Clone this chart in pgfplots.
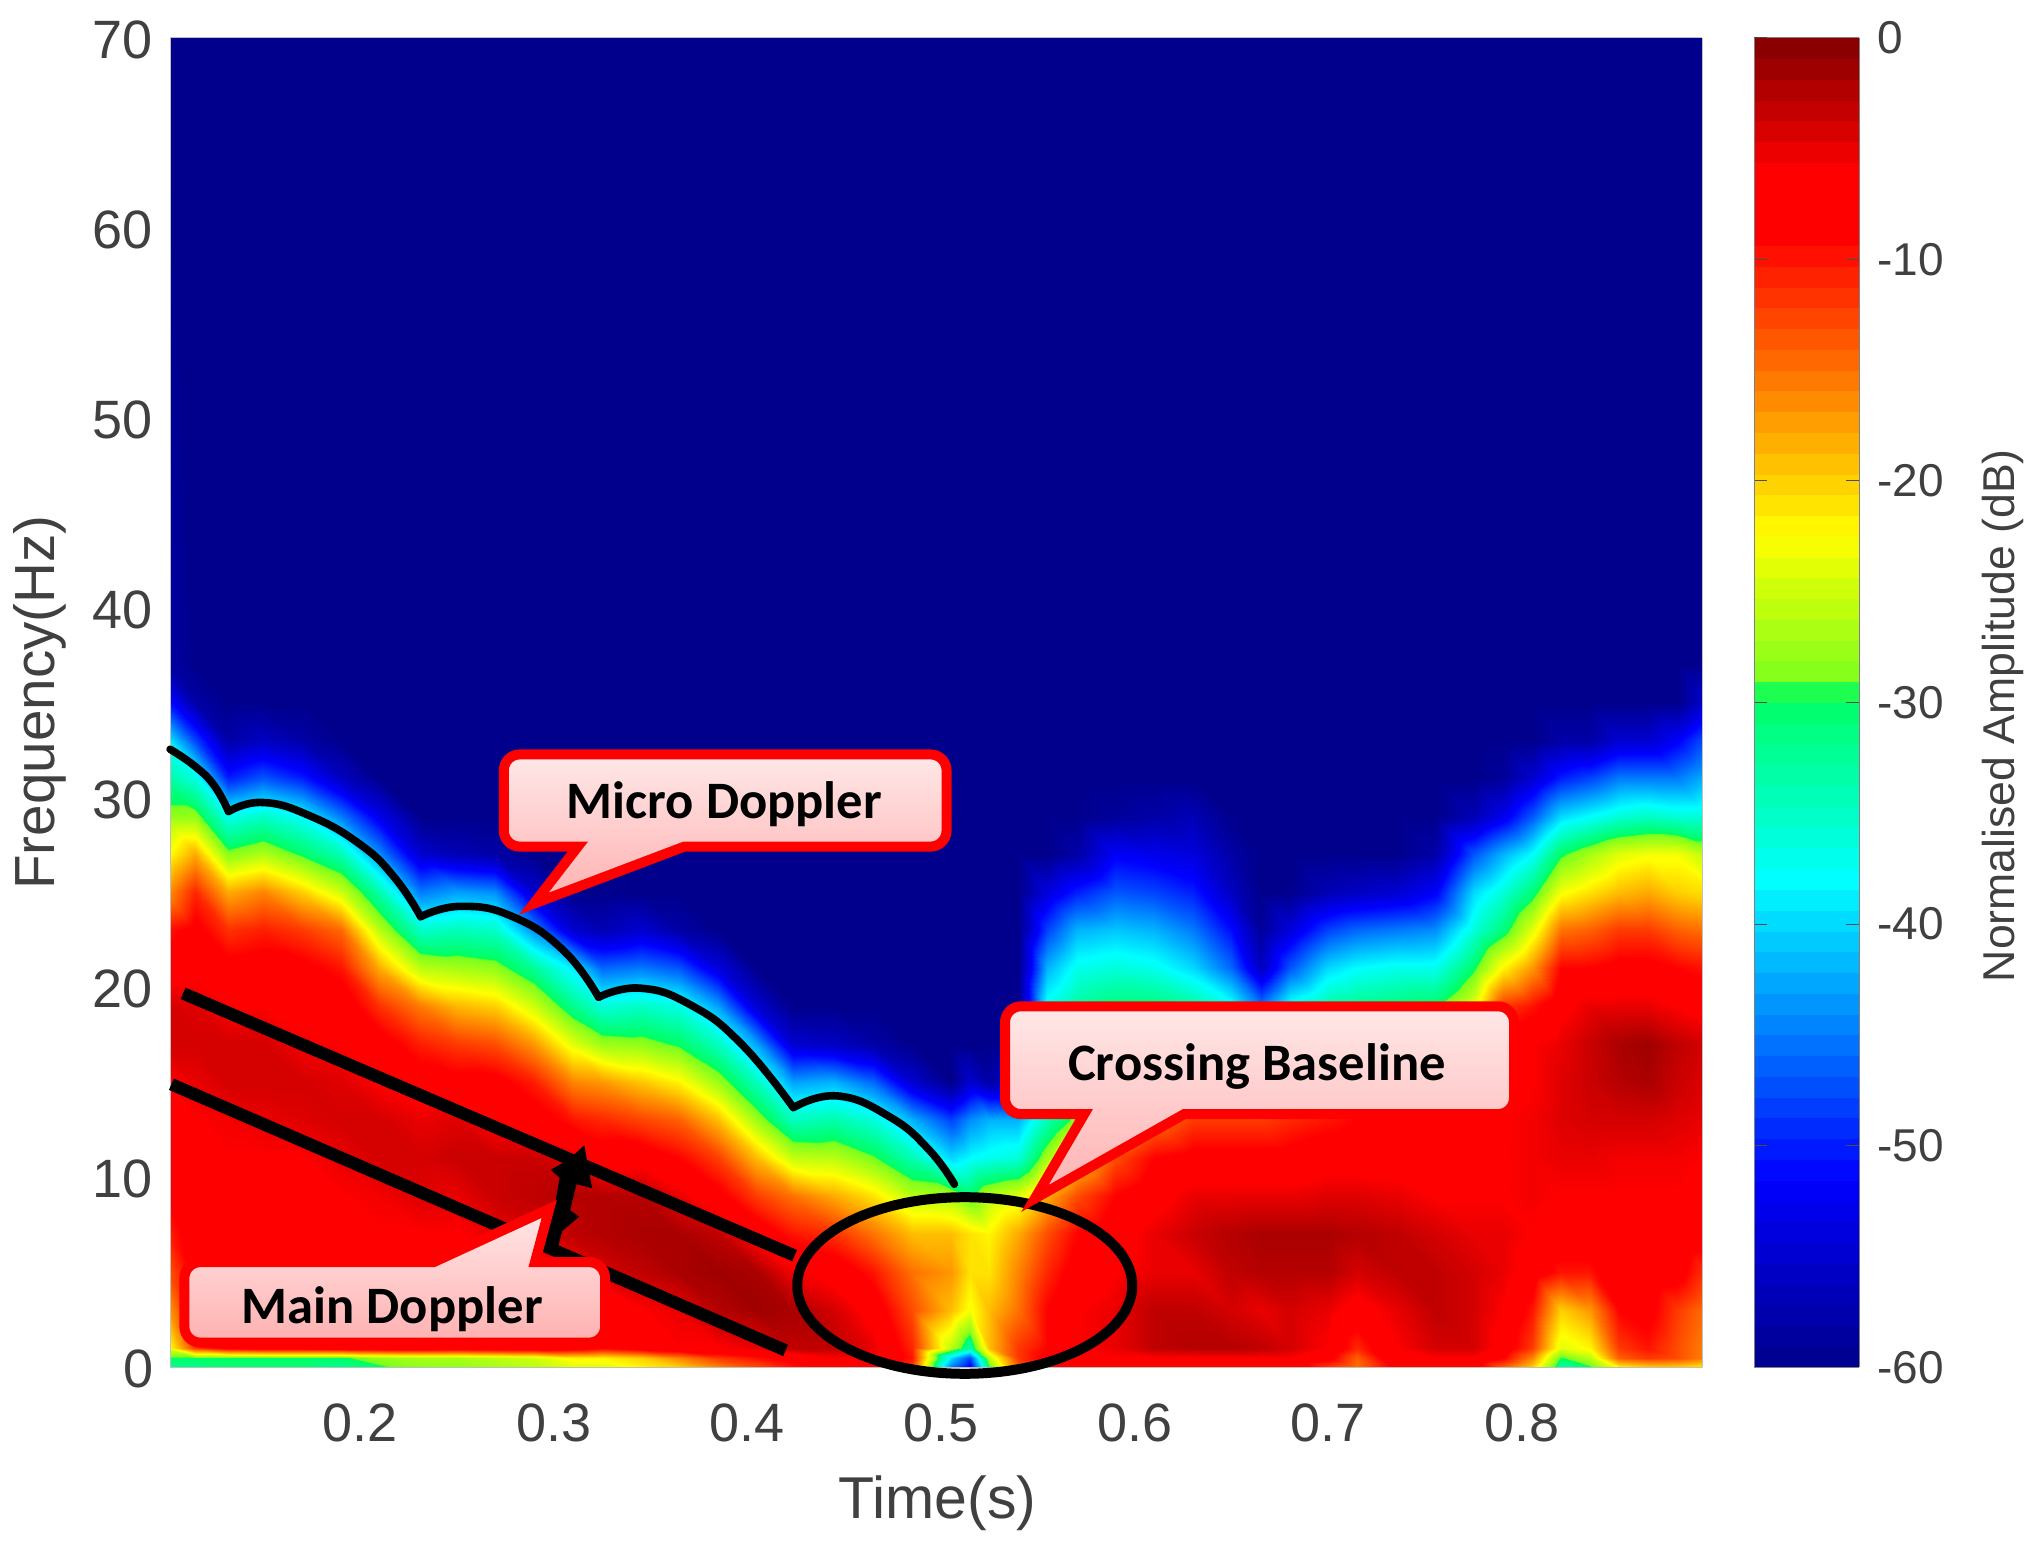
\documentclass[border=0pt]{standalone}
\usepackage{fontspec}
\setmainfont{Liberation Sans}
\newfontfamily\calloutfont{Carlito}
\usepackage{pgfplots}
\pgfplotsset{compat=1.18}
\definecolor{labelgray}{RGB}{64,64,64}
\definecolor{calltop}{RGB}{255,232,232}
\definecolor{callbot}{RGB}{255,176,176}

% spectrogram values in dB: one line per time, frequencies from the bottom up
% (rows 0,0.5,1,3,...,37,70 Hz; the rows left out at the top are the -60 floor)
\newcount\ncnt
\def\coords{}
\def\freqs{{0,0.5,1,3,5,7,9,11,13,15,17,19,21,23,25,27,29,31,33,35,37,70}}
\newcommand\addcol[2]{%
  \global\ncnt=0
  \foreach \v in {#2}{%
    \pgfmathparse{\freqs[\the\ncnt]}%
    \xdef\coords{\coords (#1,\pgfmathresult,\v)}%
    \global\advance\ncnt by 1
  }%
  \loop\ifnum\ncnt<22
    \pgfmathparse{\freqs[\the\ncnt]}%
    \xdef\coords{\coords (#1,\pgfmathresult,-60)}%
    \global\advance\ncnt by 1
  \repeat
}
\addcol{0.100}{-32,-30,-24,-18,-14,-11,-9,-7,-7,-6,-4,-4,-7,-10,-17,-23,-28,-33,-38,-50,-58,-60}
\addcol{0.115}{-32,-30,-12,-9,-8,-7,-6,-6,-6,-5,-4,-4.5,-6.5,-8,-11,-18,-28,-36.5,-48,-58}
\addcol{0.132}{-30,-30,-8,-7,-6.5,-6,-6,-6,-5.5,-4,-4,-6,-8,-11.5,-18,-28.5,-37,-50,-58}
\addcol{0.150}{-30,-30,-7,-6.5,-6,-6,-6,-6,-5,-4,-4,-6,-7.5,-10.5,-16,-26.5,-35,-47,-56}
\addcol{0.170}{-30,-30,-7,-6,-6,-6,-6,-6,-4.5,-4,-5.5,-6.5,-8,-12,-20,-30,-38,-50,-58}
\addcol{0.190}{-32,-30,-6.5,-6,-6,-6,-6,-5,-4,-4.5,-6,-7,-10,-14.5,-25,-34,-45,-56}
\addcol{0.210}{-30,-28,-6,-6,-6,-6,-5.5,-4,-4,-6,-7.5,-11.5,-18,-26,-33.5,-44,-53}
\addcol{0.231}{-28,-27,-6,-6,-6,-6,-4.5,-4,-5,-7.5,-10.5,-15.5,-26,-35,-45,-55}
\addcol{0.250}{-28,-27,-6.5,-6,-6,-6,-5,-3.5,-4.5,-8,-12,-18.7,-27,-34.3,-43,-57}
\addcol{0.270}{-27,-26,-6,-6,-6,-5,-3.5,-3.5,-6.5,-8,-13,-20,-28,-35,-44,-58}
\addcol{0.290}{-26,-25,-6,-6,-6,-4,-3,-3.5,-7.5,-10.5,-17,-25,-32.5,-44,-55}
\addcol{0.310}{-24,-22,-7,-7,-6,-3,-2.5,-5,-10,-16,-24,-32,-39,-55}
\addcol{0.325}{-24,-22,-9,-9,-4,-2.5,-2.5,-7.5,-11,-17,-27.5,-36,-46,-57}
\addcol{0.345}{-22,-20,-7,-6,-3,-2,-2.5,-7,-12.5,-19.5,-28,-35,-45,-55}
\addcol{0.365}{-20,-16,-6,-5,-2,-2,-5,-9,-14,-22,-30,-36.5,-47,-58}
\addcol{0.385}{-16,-12,-6,-2.5,-1.5,-3,-8,-12.2,-19,-27.5,-34.6,-43,-54}
\addcol{0.405}{-13,-10,-5,-1.5,-2,-7,-12.2,-19,-27.5,-34.6,-43,-55}
\addcol{0.4235}{-10,-8,-3,-2,-5.5,-10,-15,-25.5,-34.5,-43,-55}
\addcol{0.445}{-8,-6,-3,-4,-7,-11.5,-18,-26,-33.5,-42,-56}
\addcol{0.465}{-8,-6,-5,-7,-10,-15,-21,-29,-36,-46,-58}
\addcol{0.485}{-12,-10,-11,-13,-15,-19,-26,-34,-42,-55}
\addcol{0.505}{-45,-40,-26,-19,-17,-19,-27,-40,-48,-60}
\addcol{0.515}{-52,-48,-33,-23,-21,-21,-30,-38,-44,-55}
\addcol{0.525}{-30,-26,-19,-19,-21,-22,-26,-37,-42,-58}
\addcol{0.540}{-14,-12,-12,-15,-16,-18,-24,-36,-42,-55}
\addcol{0.555}{-9,-8,-9,-9,-11,-13,-18,-27,-34,-36,-35,-37,-42,-48,-54}
\addcol{0.570}{-8,-7,-6,-6,-7.5,-9,-13,-20,-28,-30,-32,-33,-37,-42,-50,-58}
\addcol{0.590}{-7,-6,-5,-5,-6,-7,-9,-13,-19,-25,-28,-31,-36,-41,-47,-52,-59}
\addcol{0.610}{-7,-6,-3,-3,-5,-5,-7,-9,-15,-22,-26,-31,-37,-42,-48,-53,-58}
\addcol{0.630}{-7,-6,-2.5,-3,-5,-3.5,-5,-8,-12,-20,-26,-33,-40,-45,-50,-54,-57}
\addcol{0.650}{-6.5,-6,-2.5,-4,-3,-2.5,-5,-8,-12,-20,-28,-37,-46,-51,-56,-58}
\addcol{0.665}{-6.5,-6,-3,-5,-2.5,-2,-5,-8,-12,-20,-30,-45,-56,-59}
\addcol{0.680}{-6.5,-6,-4,-4,-2.5,-2,-5,-8,-11,-18,-28,-37,-47,-54}
\addcol{0.700}{-12,-8,-6,-5,-2.5,-2,-4.5,-7,-10,-16,-25,-33,-40,-48,-57}
\addcol{0.715}{-15,-14,-11,-7,-4,-2.5,-4.5,-7,-9,-15,-24,-32,-38,-46,-56}
\addcol{0.735}{-8,-6,-6,-5,-3,-3,-5,-7,-8,-14,-23,-31,-37,-45,-55}
\addcol{0.755}{-7,-6,-4,-3,-3,-4,-6,-6.5,-8,-12,-20,-30,-37,-44,-52,-58}
\addcol{0.775}{-8,-6,-4,-4,-4,-5,-6,-6,-7,-9,-14,-24,-30,-36,-40,-47,-57}
\addcol{0.790}{-14,-9,-7,-6,-5,-5,-6,-6,-6,-6.5,-7.5,-12,-22,-31,-36,-42,-53,-59}
\addcol{0.805}{-20,-16,-12,-10,-7,-6,-5.5,-5.5,-5.5,-6,-6,-10,-17,-24,-31,-38,-47,-55}
\addcol{0.820}{-33,-30,-24,-20,-10,-7,-6,-5,-4.5,-4.5,-5,-6.5,-9,-15,-23,-30,-40,-50,-58}
\addcol{0.835}{-30,-26,-22,-17,-10,-6,-6,-5,-4,-3.5,-3.5,-5,-9,-14,-21,-27,-38,-48,-58}
\addcol{0.850}{-22,-14,-12,-9,-6,-6,-6,-5.5,-4,-2.5,-2,-5,-8,-12,-19,-24,-36,-45,-55}
\addcol{0.865}{-20,-12,-10,-8,-7,-6,-6,-5.5,-4,-2,-1.5,-5,-8,-12,-18,-23,-35,-45,-55}
\addcol{0.880}{-20,-13,-13,-12,-7.5,-6,-6,-5.5,-4.5,-3.5,-3,-6,-9,-14,-20,-23,-36,-45,-52}
\addcol{0.895}{-22,-16,-16,-15,-12,-7,-6.5,-6,-5,-4.5,-4,-7,-10,-15,-21,-26,-36,-42,-47,-55}

\newcommand\plotcoords[1]{\addplot3[surf, shader=interp, mesh/ordering=y varies, mesh/rows=22, mesh/cols=46] coordinates {#1};}

\begin{document}
\begin{tikzpicture}
\path[use as bounding box] (0,0) rectangle (1018pt,-777.5pt);
\begin{axis}[
    at={(85.05pt,-683.6pt)},
    anchor=south west,
    scale only axis,
    width=766pt,
    height=664.8pt,
    view={0}{90},
    xmin=0.102, xmax=0.893,
    ymin=0, ymax=70,
    xtick={0.2,0.3,0.4,0.5,0.6,0.7,0.8},
    ytick={0,10,20,30,40,50,60,70},
    xticklabels={0.2,0.3,0.4,0.5,0.6,0.7,0.8},
    major tick length=0pt,
    axis line style={draw=gray!50, line width=0.5pt},
    /pgf/number format/assume math mode=true,
    tick label style={font=\fontsize{27}{31}\selectfont, text=labelgray},
    xticklabel style={yshift=-15pt},
    yticklabel style={xshift=-5pt, yshift=-1pt},
    xlabel={Time(s)},
    ylabel={Frequency(Hz)},
    xlabel style={font=\fontsize{29.5}{34}\selectfont, text=labelgray,
        at={(axis description cs:0.501,-0.102)}, anchor=center},
    ylabel style={font=\fontsize{28.3}{32}\selectfont, text=labelgray,
        at={(axis description cs:-0.0847,0.5)}, anchor=center},
    point meta min=-60, point meta max=0,
    colormap={specjet}{
        rgb255(0pt)=(0,0,140);
        rgb255(8.5pt)=(0,0,255);
        rgb255(22pt)=(0,255,255);
        rgb255(30.4pt)=(0,255,96);
        rgb255(30.7pt)=(120,255,30);
        rgb255(37.5pt)=(255,255,0);
        rgb255(51pt)=(255,0,0);
        rgb255(54pt)=(255,0,0);
        rgb255(60pt)=(128,0,0)
    },
    colorbar,
    colorbar sampled,
    colorbar style={
        samples=65,
        at={(1.0339,1)},
        anchor=north west,
        width=52.6pt,
        ytick={0,-10,-20,-30,-40,-50,-60},
        yticklabels={0,-10,-20,-30,-40,-50,-60},
        tick align=inside,
        major tick length=6.5pt,
        ytick style={draw=black!70, line width=0.5pt},
        axis line style={draw=gray, line width=0.5pt},
        yticklabel style={font=\fontsize{23}{27}\selectfont, text=labelgray, xshift=5.5pt},
        ylabel={Normalised Amplitude (dB)},
        ylabel style={font=\fontsize{22.3}{26}\selectfont, text=labelgray,
            at={(axis description cs:2.37,0.49)}, anchor=center},
    },
]
\expandafter\plotcoords\expandafter{\coords}
\end{axis}

% annotations, in the reference's own display coordinates
\begin{scope}[x=0.64923pt, y=-0.64923pt]
% micro doppler envelope
\tikzset{envelope/.style={black, line width=3.8pt, line join=round, line cap=round}}
\draw[envelope] plot[smooth, tension=0.8] coordinates {(131,577) (150,590) (165,605) (176,625)};
\draw[envelope] plot[smooth, tension=0.8] coordinates {(176,625) (202,618) (238,628) (277,650) (304,676) (324,706)};
\draw[envelope] plot[smooth, tension=0.8] coordinates {(324,706) (355,698) (395,706) (434,732) (461,768)};
\draw[envelope] plot[smooth, tension=0.8] coordinates {(461,768) (493,761) (532,774) (571,804) (611,853)};
\draw[envelope] plot[smooth, tension=0.8] coordinates {(611,853) (645,844) (685,860) (715,885) (735,912)};
% main doppler band
\draw[black, line width=6.2pt] (141,765) -- (612,967);
\draw[black, line width=6.2pt] (132,835) -- (605,1040);
% crossing ellipse
\draw[black, line width=5pt] (743,990) ellipse [x radius=129, y radius=68];
% jagged blob on the band
\fill[black] (450,882) -- (456,915) -- (444,912) -- (439,932) -- (446,937) -- (433,948) -- (428,967)
    -- (419,958) -- (427,930) -- (431,907) -- (424,901) -- (438,893) -- cycle;
% callouts
\tikzset{callout/.style={draw=red, line width=5pt, top color=calltop, bottom color=callbot, line join=miter}}
\draw[callout] [rounded corners=8pt] (550,581) -- (729,581) -- (729,652)
    [sharp corners] -- (527,652) -- (411,696) -- (445,652)
    [rounded corners=8pt] -- (388,652) -- (388,581) -- cycle;
\node[font=\calloutfont\bfseries\fontsize{26.3}{30}\selectfont, text=black] at (558,619) {Micro Doppler};
\draw[callout] [rounded corners=8pt] (250,1034) -- (142,1034) -- (142,972)
    [sharp corners] -- (334,972) -- (423,931) -- (412,972)
    [rounded corners=8pt] -- (466,972) -- (466,1034) -- cycle;
\node[font=\calloutfont\bfseries\fontsize{26.3}{30}\selectfont, text=black] at (302,1008) {Main Doppler};
\draw[callout] [rounded corners=8pt] (970,775) -- (1166,775) -- (1166,858)
    [sharp corners] -- (912,858) -- (797,923) -- (835,858)
    [rounded corners=8pt] -- (774,858) -- (774,775) -- cycle;
\node[font=\calloutfont\bfseries\fontsize{26.3}{30}\selectfont, text=black] at (968,821) {Crossing Baseline};
\end{scope}
\end{tikzpicture}
\end{document}
